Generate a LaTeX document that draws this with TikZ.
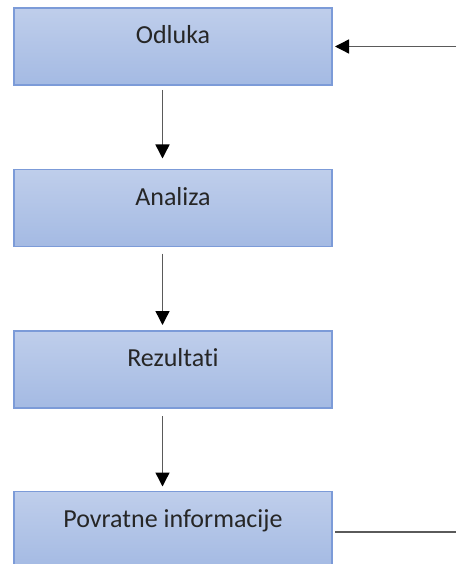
\documentclass[tikz,border=0pt]{standalone}
\usepackage{fontspec}
\setmainfont{Carlito}[Ligatures=NoCommon]
\usetikzlibrary{arrows.meta}
\definecolor{boxtop}{HTML}{BFCEEB}
\definecolor{boxbot}{HTML}{A4BAE3}
\definecolor{boxedge}{HTML}{7C9BD8}
\definecolor{linegray}{HTML}{5A5A5A}
\definecolor{txt}{HTML}{262626}
\tikzset{
  stepbox/.style={draw=boxedge, line width=1.2pt, top color=boxtop, bottom color=boxbot,
    minimum width=318pt, minimum height=77pt, inner sep=0pt, outer sep=0pt},
  boxtext/.style={anchor=base, inner sep=0pt, text=txt, font=\fontsize{26}{30}\selectfont},
  flow/.style={draw=linegray, line width=1.4pt, -{Triangle[length=14pt,width=14pt,color=black,fill=black]}},
  plain/.style={draw=linegray, line width=1.4pt}
}
\begin{document}
\begin{tikzpicture}[x=1pt,y=-1pt]
\useasboundingbox (0,0) rectangle (456,564);
\clip (0,0) rectangle (456,564);
\node[stepbox] (o) at (173,46.5) {};
\node[stepbox] (a) at (173,208) {};
\node[stepbox] (r) at (173,369.5) {};
\node[stepbox] (p) at (173,530) {};
\node[boxtext] (ot) at (173,44) {Odluka};
\node[boxtext] (at) at (173,205.5) {Analiza};
\node[boxtext] (rt) at (173,366.5) {Rezultati};
\node[boxtext] (pt) at (173,527) {Povratne informacije};
\coordinate (ax) at (162.5,0);
\draw[flow, shorten <=5pt, shorten >=11pt] (o.south -| ax) -- (a.north -| ax);
\draw[flow, shorten <=7pt, shorten >=6pt] (a.south -| ax) -- (r.north -| ax);
\draw[flow, shorten <=8pt, shorten >=5pt] (r.south -| ax) -- (p.north -| ax);
\coordinate (fbin) at (456,46.5);
\coordinate (fbout) at (456,532);
\draw[flow, shorten >=3pt] (fbin) -- (o.east);
\draw[plain, shorten <=3pt] (p.east |- fbout) -- (fbout);
\end{tikzpicture}
\end{document}
